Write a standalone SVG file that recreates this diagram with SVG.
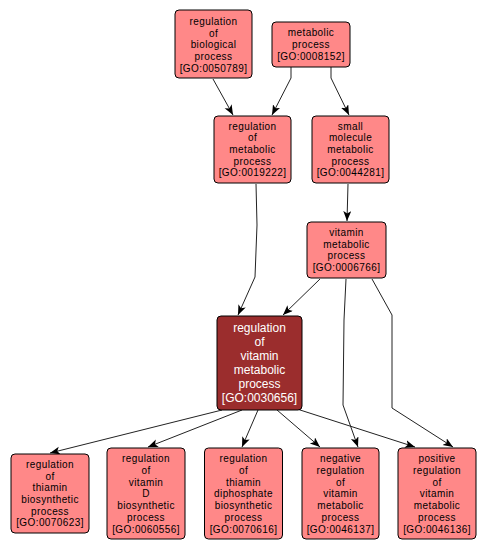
<svg xmlns="http://www.w3.org/2000/svg" width="486" height="551" viewBox="0 0 486 551">
<style>
.n rect{fill:#FF8888;stroke:#000;stroke-width:1}
.m rect{fill:#9B2D2D;stroke:#000;stroke-width:1}
.n text{font-family:"Liberation Sans",Arial,sans-serif;font-size:10px;letter-spacing:0.4px;fill:#000;text-anchor:middle}
.m text{font-family:"Liberation Sans",Arial,sans-serif;font-size:12px;fill:#fff;text-anchor:middle}
.e path{fill:none;stroke:#222;stroke-width:1;marker-end:url(#a)}
</style>
<defs>
<marker id="a" markerUnits="userSpaceOnUse" markerWidth="11" markerHeight="9" refX="10" refY="4" orient="auto">
<path d="M0,0 L10,4 L0,8 L2.5,4 Z" fill="#000"/>
</marker>
</defs>
<rect width="486" height="551" fill="#fff"/>
<g id="edges" class="e">
<path d="M213,79 L233,115"/>
<path d="M291,67 L291,78 L272,115"/>
<path d="M331,67 L331,78 L349,115"/>
<path d="M256,184 L257,225 L255,277 L238,315"/>
<path d="M348,184 L347,221"/>
<path d="M320,279 L283,315"/>
<path d="M346,279 L344,320 L343,405 L358,447"/>
<path d="M372,279 L392,315 L392,408 L453,447"/>
<path d="M222,410 L50,453"/>
<path d="M242,410 L148,447"/>
<path d="M258,410 L242,447"/>
<path d="M277,410 L320,447"/>
<path d="M297,409 L415,447"/>
</g>
<g id="GO0050789" class="n">
<rect x="175" y="10" width="77" height="68" rx="4"/>
<text x="213.5" y="25">regulation</text>
<text x="213.5" y="36.7">of</text>
<text x="213.5" y="48.4">biological</text>
<text x="213.5" y="60.1">process</text>
<text x="213.5" y="71.8">[GO:0050789]</text>
</g>
<g id="GO0008152" class="n">
<rect x="272" y="22" width="78" height="45" rx="4"/>
<text x="311" y="36.2">metabolic</text>
<text x="311" y="47.9">process</text>
<text x="311" y="59.6">[GO:0008152]</text>
</g>
<g id="GO0019222" class="n">
<rect x="214" y="116" width="77" height="67" rx="4"/>
<text x="252.5" y="129.6">regulation</text>
<text x="252.5" y="141.3">of</text>
<text x="252.5" y="153">metabolic</text>
<text x="252.5" y="164.7">process</text>
<text x="252.5" y="176.4">[GO:0019222]</text>
</g>
<g id="GO0044281" class="n">
<rect x="312" y="116" width="77" height="67" rx="4"/>
<text x="350.5" y="129.6">small</text>
<text x="350.5" y="141.3">molecule</text>
<text x="350.5" y="153">metabolic</text>
<text x="350.5" y="164.7">process</text>
<text x="350.5" y="176.4">[GO:0044281]</text>
</g>
<g id="GO0006766" class="n">
<rect x="307" y="222" width="79" height="56" rx="4"/>
<text x="346.5" y="236">vitamin</text>
<text x="346.5" y="247.7">metabolic</text>
<text x="346.5" y="259.4">process</text>
<text x="346.5" y="271.1">[GO:0006766]</text>
</g>
<g id="GO0030656" class="m">
<rect x="217" y="316" width="85" height="94" rx="4"/>
<text x="259.5" y="332.2">regulation</text>
<text x="259.5" y="346.2">of</text>
<text x="259.5" y="360.2">vitamin</text>
<text x="259.5" y="374.2">metabolic</text>
<text x="259.5" y="388.2">process</text>
<text x="259.5" y="402.2">[GO:0030656]</text>
</g>
<g id="GO0070623" class="n">
<rect x="11" y="454" width="78" height="79" rx="4"/>
<text x="50" y="467.8">regulation</text>
<text x="50" y="479.5">of</text>
<text x="50" y="491.2">thiamin</text>
<text x="50" y="502.9">biosynthetic</text>
<text x="50" y="514.6">process</text>
<text x="50" y="526.3">[GO:0070623]</text>
</g>
<g id="GO0060556" class="n">
<rect x="107" y="448" width="78" height="91" rx="4"/>
<text x="146" y="462">regulation</text>
<text x="146" y="473.8">of</text>
<text x="146" y="485.6">vitamin</text>
<text x="146" y="497.4">D</text>
<text x="146" y="509.2">biosynthetic</text>
<text x="146" y="521">process</text>
<text x="146" y="532.8">[GO:0060556]</text>
</g>
<g id="GO0070616" class="n">
<rect x="204.5" y="448" width="78" height="91" rx="4"/>
<text x="243.5" y="462">regulation</text>
<text x="243.5" y="473.8">of</text>
<text x="243.5" y="485.6">thiamin</text>
<text x="243.5" y="497.4">diphosphate</text>
<text x="243.5" y="509.2">biosynthetic</text>
<text x="243.5" y="521">process</text>
<text x="243.5" y="532.8">[GO:0070616]</text>
</g>
<g id="GO0046137" class="n">
<rect x="302" y="448" width="77" height="91" rx="4"/>
<text x="340.5" y="462">negative</text>
<text x="340.5" y="473.8">regulation</text>
<text x="340.5" y="485.6">of</text>
<text x="340.5" y="497.4">vitamin</text>
<text x="340.5" y="509.2">metabolic</text>
<text x="340.5" y="521">process</text>
<text x="340.5" y="532.8">[GO:0046137]</text>
</g>
<g id="GO0046136" class="n">
<rect x="398" y="448" width="78" height="91" rx="4"/>
<text x="437" y="462">positive</text>
<text x="437" y="473.8">regulation</text>
<text x="437" y="485.6">of</text>
<text x="437" y="497.4">vitamin</text>
<text x="437" y="509.2">metabolic</text>
<text x="437" y="521">process</text>
<text x="437" y="532.8">[GO:0046136]</text>
</g>
</svg>
